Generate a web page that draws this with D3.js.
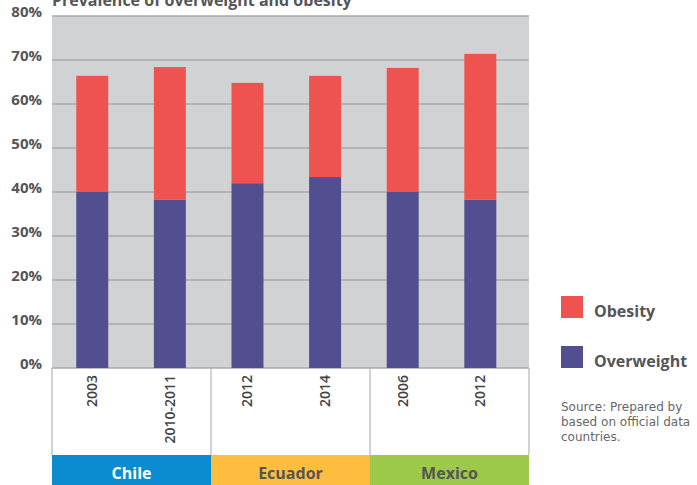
<!DOCTYPE html>
<html>
<head>
<meta charset="utf-8">
<script src="https://cdn.jsdelivr.net/npm/d3@7"></script>
<style>
  body { margin: 0; background: #fff; }
  svg { display: block; font-family: 'Open Sans', sans-serif; }
</style>
</head>
<body>
<svg id="chart" width="697" height="485"></svg>
<script>
// values (%)
const countries = ['Chile', 'Ecuador', 'Mexico'];
const countryColors = ['#0b8bd0', '#fdbe40', '#9cc94a'];
const countryText = ['#ffffff', '#555555', '#555555'];
const years = ['2003', '2010-2011', '2012', '2014', '2006', '2012'];
const surveyCountry = ['Chile', 'Chile', 'Ecuador', 'Ecuador', 'Mexico', 'Mexico'];
const overweight = [40.0, 38.3, 42.0, 43.4, 40.0, 38.3];
const obesity = [26.4, 30.1, 22.8, 23.0, 28.2, 33.1];
const yTicks = [0, 10, 20, 30, 40, 50, 60, 70, 80];

const svg = d3.select('#chart');
const margin = {top: 16, left: 52, right: 168, bottom: 117};
const W = 697, H = 485;
const plotBottom = H - margin.bottom;

// country groups (for the boxes and coloured bands)
const x0 = d3.scaleBand()
  .domain(countries)
  .range([margin.left, W - margin.right]);

// one band per survey
const x = d3.scaleBand()
  .domain(d3.range(years.length))
  .range(x0.range())
  .paddingInner(0.588)
  .paddingOuter(0.367)
  .align(0.426);

const y = d3.scaleLinear()
  .domain([0, 80])
  .range([plotBottom, margin.top]);

// title (clipped at the top in the original)
svg.append('text')
  .attr('x', 52).attr('y', 6)
  .attr('fill', '#555').style('font-weight', 700).style('font-size', '16px')
  .text('Prevalence of overweight and obesity');

// plot background
svg.append('rect')
  .attr('x', margin.left).attr('y', y(80))
  .attr('width', x0.range()[1] - margin.left)
  .attr('height', y(0) - y(80))
  .attr('fill', '#d1d2d4');

// gridlines
svg.append('g')
  .selectAll('line')
  .data(yTicks)
  .enter().append('line')
    .attr('x1', margin.left).attr('x2', x0.range()[1])
    .attr('y1', d => y(d)).attr('y2', d => y(d))
    .attr('stroke', '#a9aaac').attr('stroke-width', 1.5);

// y labels
svg.append('g')
  .selectAll('text')
  .data(yTicks)
  .enter().append('text')
    .attr('x', 42).attr('y', d => y(d) + 0.5)
    .attr('text-anchor', 'end')
    .attr('fill', '#555')
    .style('font-weight', 700).style('font-size', '15px')
    .text(d => d + '%');

// stacked bars
const bars = svg.append('g');
bars.selectAll('rect.ow')
  .data(overweight)
  .enter().append('rect')
    .attr('class', 'ow')
    .attr('x', (d, i) => x(i))
    .attr('width', x.bandwidth())
    .attr('y', d => y(d))
    .attr('height', d => y(0) - y(d))
    .attr('fill', '#524e90');
bars.selectAll('rect.ob')
  .data(obesity)
  .enter().append('rect')
    .attr('class', 'ob')
    .attr('x', (d, i) => x(i))
    .attr('width', x.bandwidth())
    .attr('y', (d, i) => y(overweight[i] + d))
    .attr('height', (d, i) => y(overweight[i]) - y(overweight[i] + d))
    .attr('fill', '#ef5350');

// category box under plot
const boxTop = plotBottom, boxBottom = 455;
const dividers = countries.map(c => x0(c)).concat([x0.range()[1]]);
svg.append('g')
  .selectAll('line')
  .data(dividers)
  .enter().append('line')
    .attr('x1', d => d).attr('x2', d => d)
    .attr('y1', boxTop).attr('y2', boxBottom)
    .attr('stroke', '#b5b5b5').attr('stroke-width', 1.2);

svg.append('g')
  .selectAll('text')
  .data(years)
  .enter().append('text')
    .attr('transform', (d, i) => `translate(${x(i) + x.bandwidth() / 2 + 5},${boxTop + 7}) rotate(-90)`)
    .attr('text-anchor', 'end')
    .attr('fill', '#444')
    .style('font-weight', 600).style('font-size', '14px')
    .text(d => d);

// country bands
const bands = svg.append('g');
bands.selectAll('rect')
  .data(countries)
  .enter().append('rect')
    .attr('x', d => x0(d)).attr('y', boxBottom)
    .attr('width', x0.bandwidth()).attr('height', H - boxBottom)
    .attr('fill', (d, i) => countryColors[i]);
bands.selectAll('text')
  .data(countries)
  .enter().append('text')
    .attr('x', d => x0(d) + x0.bandwidth() / 2).attr('y', 479)
    .attr('text-anchor', 'middle')
    .attr('fill', (d, i) => countryText[i])
    .style('font-weight', 700).style('font-size', '16px')
    .text(d => d);

// legend
const legendItems = [{name: 'Obesity', color: '#ef5350'}, {name: 'Overweight', color: '#524e90'}];
const lg = svg.append('g').attr('transform', 'translate(561,296)');
const li = lg.selectAll('g')
  .data(legendItems)
  .enter().append('g')
    .attr('transform', (d, i) => `translate(0,${i * 50})`);
li.append('rect').attr('width', 22).attr('height', 22).attr('fill', d => d.color);
li.append('text')
  .attr('x', 33).attr('y', 21)
  .attr('fill', '#555')
  .style('font-weight', 700).style('font-size', '16px')
  .text(d => d.name);

// source note
const src = ['Source: Prepared by', 'based on official data', 'countries.'];
svg.append('g')
  .selectAll('text')
  .data(src)
  .enter().append('text')
    .attr('x', 561).attr('y', (d, i) => 411 + i * 15)
    .attr('fill', '#666')
    .style('font-family', "'DejaVu Sans', sans-serif")
    .style('font-size', '12px')
    .text(d => d);
</script>
</body>
</html>
